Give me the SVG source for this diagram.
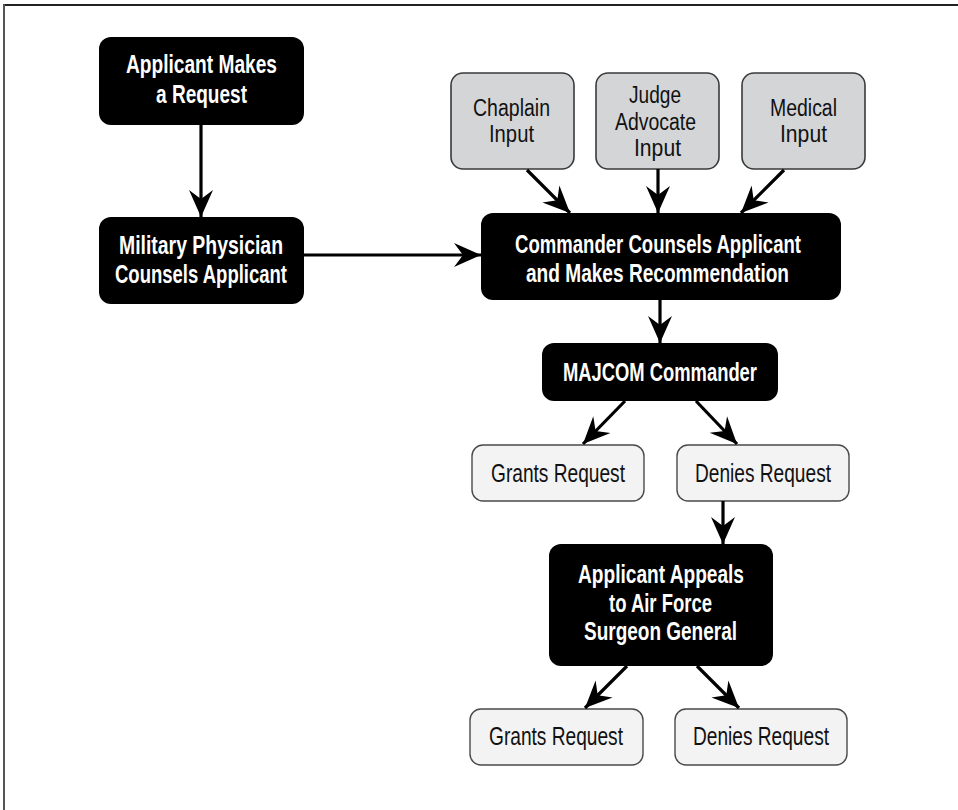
<svg xmlns="http://www.w3.org/2000/svg" width="958" height="810" viewBox="0 0 958 810">
<style>
.blk{fill:#000;stroke:none}
.gry{fill:#d4d5d7;stroke:#3a3a3a;stroke-width:1.6}
.res{fill:#f3f3f3;stroke:#4a4a4a;stroke-width:1.4}
.tb{font-family:"Liberation Sans",Arial,sans-serif;font-weight:bold;font-size:25px;fill:#fff}
.tr{font-family:"Liberation Sans",Arial,sans-serif;font-size:26px;fill:#111}
.tg{font-family:"Liberation Sans",Arial,sans-serif;font-size:23px;fill:#111}
.con line{stroke:#000;stroke-width:3.2;fill:none;marker-end:url(#ah)}
</style>
<defs>
<marker id="ah" markerUnits="userSpaceOnUse" markerWidth="32" markerHeight="28" viewBox="-29 -14 32 28" refX="0" refY="0" orient="auto">
<path d="M0,0 L-27,-12 L-18,0 L-27,12 Z" fill="#000"/>
</marker>
</defs>
<rect x="0" y="0" width="958" height="810" fill="#fff"/>
<line x1="3" y1="5" x2="958" y2="5" stroke="#222" stroke-width="2"/>
<line x1="4" y1="4" x2="4" y2="810" stroke="#555" stroke-width="2"/>

<g id="n-request"><rect class="blk" x="99" y="37" width="205" height="88" rx="12"/>
<text class="tb" x="126" y="73" textLength="151" lengthAdjust="spacingAndGlyphs">Applicant Makes</text>
<text class="tb" x="156" y="103" textLength="91" lengthAdjust="spacingAndGlyphs">a Request</text></g>

<g id="n-physician"><rect class="blk" x="99" y="217" width="205" height="87" rx="12"/>
<text class="tb" x="119" y="254" textLength="164" lengthAdjust="spacingAndGlyphs">Military Physician</text>
<text class="tb" x="115" y="283" textLength="172" lengthAdjust="spacingAndGlyphs">Counsels Applicant</text></g>

<g id="n-chaplain"><rect class="gry" x="451" y="73" width="123" height="96" rx="12"/>
<text class="tg" x="473" y="116" textLength="77" lengthAdjust="spacingAndGlyphs">Chaplain</text>
<text class="tg" x="489" y="142" textLength="45" lengthAdjust="spacingAndGlyphs">Input</text></g>

<g id="n-judge"><rect class="gry" x="596" y="73" width="123" height="96" rx="12"/>
<text class="tg" x="629" y="103" textLength="52" lengthAdjust="spacingAndGlyphs">Judge</text>
<text class="tg" x="615" y="130" textLength="81" lengthAdjust="spacingAndGlyphs">Advocate</text>
<text class="tg" x="634" y="156" textLength="47" lengthAdjust="spacingAndGlyphs">Input</text></g>

<g id="n-medical"><rect class="gry" x="742" y="73" width="123" height="96" rx="12"/>
<text class="tg" x="770" y="116" textLength="67" lengthAdjust="spacingAndGlyphs">Medical</text>
<text class="tg" x="780" y="142" textLength="47" lengthAdjust="spacingAndGlyphs">Input</text></g>

<g id="n-commander"><rect class="blk" x="481" y="213" width="360" height="87" rx="12"/>
<text class="tb" x="515" y="253" textLength="286" lengthAdjust="spacingAndGlyphs">Commander Counsels Applicant</text>
<text class="tb" x="526" y="282" textLength="263" lengthAdjust="spacingAndGlyphs">and Makes Recommendation</text></g>

<g id="n-majcom"><rect class="blk" x="542" y="343" width="236" height="58" rx="12"/>
<text class="tb" x="563" y="381" textLength="194" lengthAdjust="spacingAndGlyphs">MAJCOM Commander</text></g>

<g id="n-grants1"><rect class="res" x="472" y="445" width="172" height="56" rx="11"/>
<text class="tr" x="491" y="482" textLength="134" lengthAdjust="spacingAndGlyphs">Grants Request</text></g>

<g id="n-denies1"><rect class="res" x="677" y="445" width="172" height="56" rx="11"/>
<text class="tr" x="695" y="482" textLength="136" lengthAdjust="spacingAndGlyphs">Denies Request</text></g>

<g id="n-appeals"><rect class="blk" x="549" y="544" width="224" height="122" rx="12"/>
<text class="tb" x="578" y="583" textLength="166" lengthAdjust="spacingAndGlyphs">Applicant Appeals</text>
<text class="tb" x="609" y="612" textLength="103" lengthAdjust="spacingAndGlyphs">to Air Force</text>
<text class="tb" x="584" y="640" textLength="153" lengthAdjust="spacingAndGlyphs">Surgeon General</text></g>

<g id="n-grants2"><rect class="res" x="470" y="709" width="173" height="56" rx="11"/>
<text class="tr" x="489" y="745" textLength="134" lengthAdjust="spacingAndGlyphs">Grants Request</text></g>

<g id="n-denies2"><rect class="res" x="675" y="709" width="172" height="56" rx="11"/>
<text class="tr" x="693" y="745" textLength="136" lengthAdjust="spacingAndGlyphs">Denies Request</text></g>

<g id="connectors" class="con">
<line x1="201" y1="125" x2="201" y2="217"/>
<line x1="304" y1="255" x2="481" y2="255"/>
<line x1="527" y1="170" x2="570" y2="213"/>
<line x1="658" y1="169" x2="658" y2="213"/>
<line x1="784" y1="170" x2="741" y2="213"/>
<line x1="660" y1="300" x2="660" y2="343"/>
<line x1="625" y1="401" x2="583" y2="444"/>
<line x1="696" y1="401" x2="737" y2="444"/>
<line x1="723" y1="501" x2="723" y2="544"/>
<line x1="627" y1="666" x2="585" y2="708"/>
<line x1="697" y1="666" x2="739" y2="708"/>
</g>
</svg>
